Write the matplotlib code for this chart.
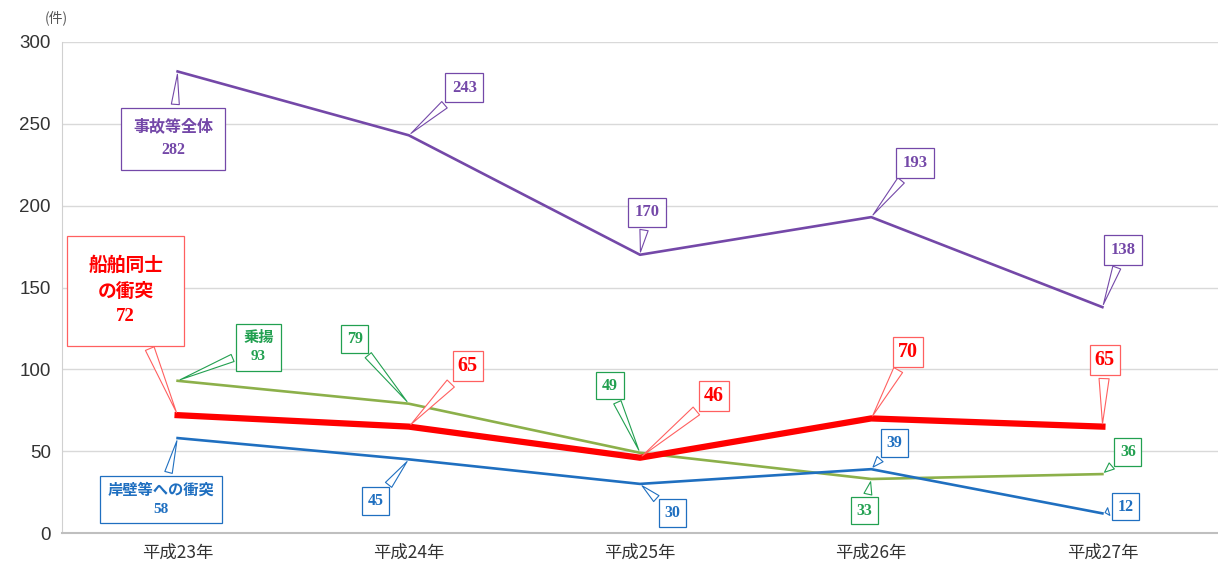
import matplotlib.pyplot as plt

years = ['平成23年', '平成24年', '平成25年', '平成26年', '平成27年']
total = [282, 243, 170, 193, 138]
ship_collision = [72, 65, 46, 70, 65]
grounding = [93, 79, 49, 33, 36]
wall_collision = [58, 45, 30, 39, 12]

purple = '#7448a8'
red = '#ff0000'
green_line = '#8cb04a'
green_text = '#22a050'
blue = '#1f6fc0'

# label box centres (data coords), one per point
total_pos = [(-0.02, 241), (1.24, 272), (2.03, 196), (3.19, 226), (4.09, 173)]
ship_pos = [(-0.225, 148), (1.255, 102), (2.32, 83.5), (3.16, 110.5), (4.01, 105.5)]
ground_pos = [(0.35, 113.5), (0.766, 118.5), (1.87, 90), (2.97, 13.5), (4.11, 49.5)]
wall_pos = [(-0.07, 20.5), (0.857, 19.5), (2.14, 12.2), (3.10, 55), (4.10, 16)]

fig = plt.figure(figsize=(12.18, 5.74), dpi=100)
ax = fig.add_axes([62 / 1218, 41 / 574, 1 - 62 / 1218, 491 / 574])

x = list(range(len(years)))
ax.plot(x, total, color=purple, lw=1.9, zorder=3)
ax.plot(x, grounding, color=green_line, lw=1.9, zorder=3)
ax.plot(x, wall_collision, color=blue, lw=1.9, zorder=3)
ax.plot(x, ship_collision, color=red, lw=4.5, zorder=4)

ax.set_xlim(-0.5, 4.5)
ax.set_ylim(0, 300)
ax.set_yticks([0, 50, 100, 150, 200, 250, 300])
ax.set_xticks(x)
ax.set_xticklabels(years, family=['Noto Sans CJK JP'], fontsize=12.5, color='#333333')
for lab in ax.get_yticklabels():
    lab.set_family(['Liberation Sans'])
    lab.set_fontsize(13.5)
    lab.set_color('#333333')
ax.tick_params(length=0, pad=8)
ax.grid(axis='y', color='#d9d9d9', lw=1)
ax.set_axisbelow(True)
for s in ['top', 'right']:
    ax.spines[s].set_visible(False)
ax.spines['left'].set_color('#d0d0d0')
ax.spines['bottom'].set_color('#bfbfbf')
ax.spines['bottom'].set_linewidth(1.5)

fig.text(45 / 1218, 1 - 18 / 574, '(件)', family=['Noto Sans CJK JP'], fontsize=10,
         color='#555555', va='center')

fam = ['Liberation Serif', 'Noto Sans CJK JP']


def callout(xi, yi, pos, text, color, fs, ec=None, pad=0.4, ls=1.4):
    ax.annotate(text, xy=(xi, yi), xytext=pos, ha='center', va='center',
                family=fam, fontsize=fs, color=color, fontweight='bold',
                linespacing=ls,
                bbox=dict(boxstyle='square,pad=%s' % pad, fc='white', ec=ec or color, lw=0.9),
                arrowprops=dict(arrowstyle='wedge,tail_width=0.5,shrink_factor=0.5',
                                fc='white', ec=ec or color, lw=0.8),
                zorder=6)


for i in x:
    if i:
        callout(i, total[i], total_pos[i], str(total[i]), purple, 12)
        callout(i, ship_collision[i], ship_pos[i], str(ship_collision[i]), red, 14.5,
                ec='#ff6060', pad=0.25)
        callout(i, grounding[i], ground_pos[i], str(grounding[i]), green_text, 11.5, pad=0.35)
        callout(i, wall_collision[i], wall_pos[i], str(wall_collision[i]), blue, 11.5, pad=0.35)
    else:
        callout(i, total[i], total_pos[i], '事故等全体\n' + str(total[i]), purple, 11.5,
                pad=0.75, ls=1.5)
        callout(i, ship_collision[i], ship_pos[i], '船舶同士\nの衝突\n' + str(ship_collision[i]),
                red, 13.5, ec='#ff6060', pad=1.1, ls=1.55)
        callout(i, grounding[i], ground_pos[i], '乗揚\n' + str(grounding[i]), green_text, 11,
                pad=0.5, ls=1.5)
        callout(i, wall_collision[i], wall_pos[i], '岸壁等への衝突\n' + str(wall_collision[i]),
                blue, 11, pad=0.5, ls=1.5)

fig.savefig('out.png', dpi=100)
